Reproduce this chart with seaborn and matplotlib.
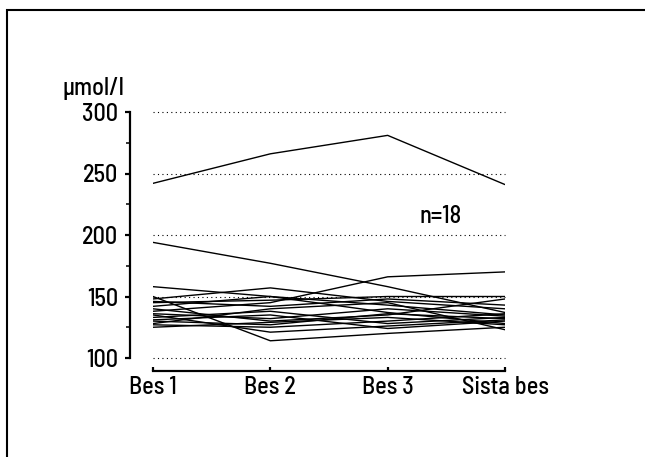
import matplotlib
matplotlib.use("Agg")
import matplotlib.pyplot as plt
import seaborn as sns
import pandas as pd
from matplotlib.patches import Rectangle
from matplotlib.ticker import MultipleLocator
from matplotlib import font_manager

visits = ["Bes 1", "Bes 2", "Bes 3", "Sista bes"]

s01 = [242, 266, 281, 241]
s02 = [194, 177, 158, 137]
s03 = [138, 145, 166, 170]
s04 = [158, 150, 143, 135]
s05 = [148, 157, 146, 140]
s06 = [150, 114, 120, 125]
s07 = [135, 121, 126, 131]
s08 = [145, 147, 150, 150]
s09 = [140, 130, 135, 148]
s10 = [133, 138, 128, 133]
s11 = [130, 127, 136, 132]
s12 = [128, 140, 145, 123]
s13 = [127, 125, 130, 136]
s14 = [136, 132, 140, 134]
s15 = [142, 150, 137, 128]
s16 = [131, 135, 124, 130]
s17 = [125, 129, 133, 127]
s18 = [146, 142, 148, 143]

series = [s01, s02, s03, s04, s05, s06, s07, s08, s09, s10,
          s11, s12, s13, s14, s15, s16, s17, s18]

yticks = [100, 150, 200, 250, 300]
ylabel = "\u00b5mol/l"
note = "n=18"

rows = []
for i, s in enumerate(series):
    for j, v in enumerate(s):
        rows.append({"subject": i, "visit": j, "value": v})
df = pd.DataFrame(rows)

sns.set_theme(style="white")
names = {f.name for f in font_manager.fontManager.ttflist}
fam = [n for n in ["Barlow Semi Condensed", "DejaVu Sans"] if n in names]
plt.rcParams["font.family"] = fam
plt.rcParams["font.weight"] = "medium"
plt.rcParams["text.color"] = "black"

FS = 17.5
PX = 72 / 100  # points per pixel

fig = plt.figure(figsize=(6.45, 4.57), dpi=100)
ax = fig.add_axes([153 / 645, 99 / 457, 352 / 645, 246 / 457])

for y in yticks:
    ax.axhline(y, color="black", lw=0.8, ls=(0, (1, 3)), zorder=0, clip_on=False)

sns.lineplot(data=df, x="visit", y="value", units="subject", estimator=None,
             color="black", lw=1.0, ax=ax, legend=False, sort=False)

ax.set_xlim(0, 3)
ax.set_ylim(100, 300)
ax.set_xticks(range(len(visits)))
ax.set_xticklabels(visits)
ax.set_yticks(yticks)
ax.yaxis.set_minor_locator(MultipleLocator(25))
ax.set_xlabel("")
ax.set_ylabel("")

for side in ["top", "right"]:
    ax.spines[side].set_visible(False)
ax.spines["left"].set_position(("outward", 23 * PX))
ax.spines["bottom"].set_position(("outward", 13 * PX))
ax.spines["left"].set_bounds(100, 300)
ax.spines["bottom"].set_bounds(0, 3)
for side in ["left", "bottom"]:
    ax.spines[side].set_linewidth(2.2 * PX)
    ax.spines[side].set_color("black")

ax.tick_params(axis="y", which="major", direction="out", length=5 * PX, width=2.2 * PX,
               left=True, labelsize=FS, colors="black", pad=7 * PX)
ax.tick_params(axis="y", which="minor", direction="out", length=4 * PX, width=1.8 * PX, left=True)
ax.tick_params(axis="x", which="major", direction="in", length=4 * PX, width=2.2 * PX,
               bottom=True, labelsize=FS, colors="black", pad=5 * PX)

fig.text(62 / 645, 1 - 88 / 457, ylabel, fontsize=FS, ha="left", va="center")
ax.text(2.45, 215, note, fontsize=FS, ha="center", va="center")

frame = Rectangle((7 / 645, -0.1), 1.2, (457 - 10) / 457 + 0.1, transform=fig.transFigure,
                  fill=False, edgecolor="black", lw=1.5, clip_on=False)
fig.patches.append(frame)

fig.savefig("out.png", dpi=100)
